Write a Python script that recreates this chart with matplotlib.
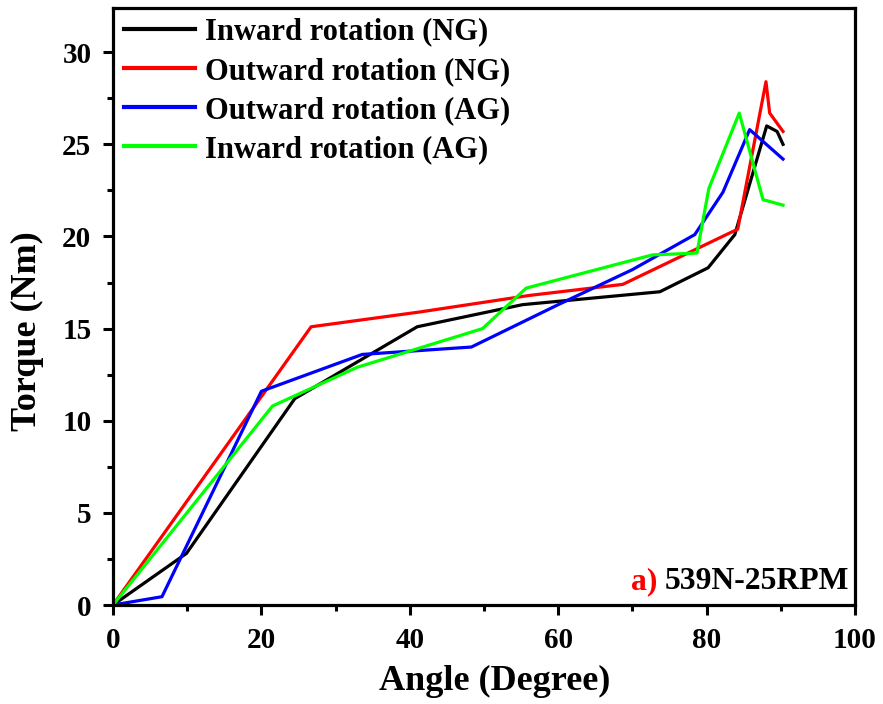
import matplotlib.pyplot as plt
from matplotlib.ticker import MultipleLocator

# Torque vs angle, 539N-25RPM
inward_ng_x = [0, 9.9, 24.5, 41.0, 55.2, 73.7, 80.2, 83.8, 88.1, 89.5, 90.3]
inward_ng_y = [0, 2.8, 11.2, 15.1, 16.3, 17.0, 18.3, 20.1, 26.0, 25.7, 25.0]

outward_ng_x = [0, 26.7, 41.3, 56.1, 68.7, 84.2, 88.0, 88.5, 90.3]
outward_ng_y = [0, 15.1, 15.9, 16.8, 17.4, 20.4, 28.4, 26.7, 25.7]

outward_ag_x = [0, 6.6, 20.0, 33.6, 48.3, 60.0, 70.0, 78.4, 82.2, 85.8, 90.3]
outward_ag_y = [0, 0.45, 11.6, 13.6, 14.0, 16.3, 18.2, 20.1, 22.4, 25.8, 24.2]

inward_ag_x = [0, 21.5, 32.9, 49.8, 55.7, 72.7, 78.7, 80.3, 84.4, 87.6, 90.3]
inward_ag_y = [0, 10.8, 12.9, 15.0, 17.2, 19.0, 19.1, 22.6, 26.7, 22.0, 21.7]

series = [
    ("Inward rotation (NG)", inward_ng_x, inward_ng_y, "black"),
    ("Outward rotation (NG)", outward_ng_x, outward_ng_y, "#ff0000"),
    ("Outward rotation (AG)", outward_ag_x, outward_ag_y, "#0000ff"),
    ("Inward rotation (AG)", inward_ag_x, inward_ag_y, "#00ff00"),
]

plt.rcParams['font.family'] = ['Liberation Serif', 'DejaVu Serif']
plt.rcParams['font.weight'] = 'bold'

fig = plt.figure(figsize=(8.83, 7.04), dpi=100)
ax = fig.add_axes([113 / 883, 1 - 605 / 704, 742 / 883, 597 / 704])

for label, xs, ys, color in series:
    ax.plot(xs, ys, color=color, lw=2.3, label=label)

ax.set_xlim(0, 100)
ax.set_ylim(0, 32.4)
ax.xaxis.set_major_locator(MultipleLocator(20))
ax.xaxis.set_minor_locator(MultipleLocator(10))
ax.yaxis.set_major_locator(MultipleLocator(5))
ax.yaxis.set_minor_locator(MultipleLocator(2.5))
ax.tick_params(which='major', direction='out', length=7.5, width=2.2, labelsize=21, pad=8)
ax.tick_params(which='minor', direction='out', length=4.5, width=2.2)
for lab in ax.get_xticklabels() + ax.get_yticklabels():
    lab.set_fontweight('bold')
for sp in ax.spines.values():
    sp.set_linewidth(2.3)

ax.set_xlabel("Angle (Degree)", fontsize=26, fontweight='bold')
ax.set_ylabel("Torque (Nm)", fontsize=26, fontweight='bold')
ax.xaxis.set_label_coords(0.515, -0.100)
ax.yaxis.set_label_coords(-0.093, 0.459)

leg = ax.legend(loc='upper left', bbox_to_anchor=(0.007, 0.994), frameon=False,
                handlelength=2.3, handletextpad=0.35, labelspacing=0.33,
                borderaxespad=0.0, borderpad=0.2,
                prop={'weight': 'bold', 'size': 22})
for line in leg.get_lines():
    line.set_linewidth(3)

t1 = ax.text(69.8, 0.85, "a) ", color="#ff0000", fontsize=22.8, fontweight='bold')
ax.annotate("539N-25RPM", xycoords=t1, xy=(1, 0), va='bottom',
            fontsize=22.8, fontweight='bold', color='black')

fig.savefig("out.png", dpi=100)
